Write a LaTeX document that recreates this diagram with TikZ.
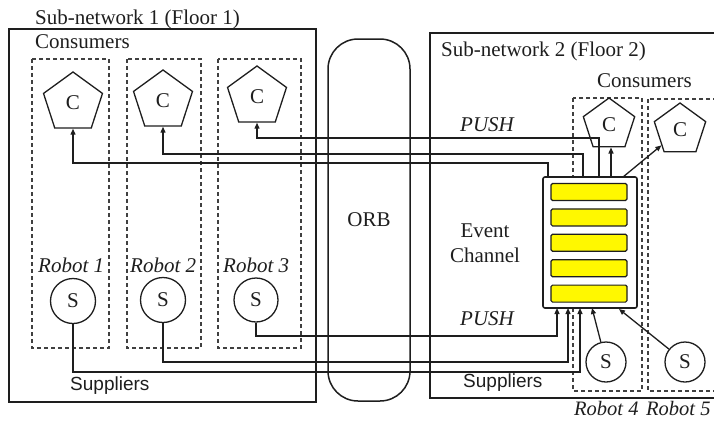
\documentclass[tikz,border=0pt]{standalone}
\usepackage{fontspec}
\setmainfont{Liberation Serif}
\setsansfont{Liberation Sans}
\usetikzlibrary{shapes.geometric,arrows.meta,calc}
\definecolor{evyellow}{RGB}{255,248,0}
\definecolor{ink}{RGB}{30,30,30}
\begin{document}
\begin{tikzpicture}[x=1pt,y=-1pt,
  every node/.style={font=\fontsize{21}{25}\selectfont, inner sep=0pt, text=ink},
  frame/.style={line width=1.6pt, draw=ink},
  robotbox/.style={dash pattern=on 4pt off 3pt, line width=1.6pt, draw=ink!85},
  link/.style={line width=1.3pt, draw=ink},
  arr/.style={link, -{Triangle[length=6pt,width=5pt]}},
  cons/.style={regular polygon, regular polygon sides=5, draw=ink, line width=1.3pt,
    fill=white, inner sep=0pt},
  supp/.style={circle, draw=ink, line width=1.3pt, fill=white, inner sep=0pt},
  bar/.style={draw=ink, line width=1.2pt, fill=evyellow, rounded corners=1.5pt},
  lbl/.style={anchor=base west},
  rob/.style={anchor=base west, font=\fontsize{21}{25}\selectfont\itshape},
  sup/.style={anchor=base west, font=\fontsize{19}{23}\selectfont\sffamily}]
\useasboundingbox (0,0) rectangle (714,421);
\clip (0,0) rectangle (714,421);

% robot groups (dashed)
\draw[robotbox] (32,59) rectangle (109,348);
\draw[robotbox] (127,59) rectangle (201,348);
\draw[robotbox] (218,59) rectangle (301,348);
\draw[robotbox] (573,98) rectangle (642,391);
\draw[robotbox] (648,99) rectangle (730,391);

% sub-network frames
\draw[frame] (9,29) rectangle (316,402);
\draw[frame] (430,33) rectangle (740,398);

% ORB bus
\node[draw=ink, line width=1.5pt, rounded corners=30pt, minimum width=82pt,
  minimum height=362pt] (orb) at (369,220) {ORB};

% titles and labels
\node[lbl] (t1) at (35,24) {Sub-network 1 (Floor 1)};
\node[lbl] (k1) at (35,48) {Consumers};
\node[lbl] (t2) at (441,56) {Sub-network 2 (Floor 2)};
\node[lbl] (k2) at (597,87) {Consumers};
\node[rob] (r1) at (38,272) {Robot 1};
\node[rob] (r2) at (130,272) {Robot 2};
\node[rob] (r3) at (223,272) {Robot 3};
\node[rob, font=\fontsize{20.5}{24}\selectfont\itshape] (r4) at (574,415) {Robot 4};
\node[rob, font=\fontsize{20.5}{24}\selectfont\itshape] (r5) at (646,415) {Robot 5};
\node[rob] (p1) at (460,131) {PUSH};
\node[rob] (p2) at (460,325) {PUSH};
\node[sup] (s1l) at (70,390) {Suppliers};
\node[sup] (s2l) at (463,387) {Suppliers};

% event channel with its queue
\node[draw=ink, line width=1.6pt, fill=white, rounded corners=2pt,
  minimum width=94pt, minimum height=131pt] (ch) at (590,242.5) {};
\foreach \yy in {192,217.4,242.8,268.2,293.6}
  \draw[bar] (551,\yy-8.5) rectangle (627,\yy+8.5);
\node[align=center] (evl) at (485,243) {Event\\Channel};

% consumers
\node[cons, minimum size=62pt] (c1) at (73,103) {C};
\node[cons, minimum size=62pt] (c2) at (163,101) {C};
\node[cons, minimum size=62pt] (c3) at (257,97) {C};
\node[cons, minimum size=54pt] (c4) at (609,125) {C};
\node[cons, minimum size=54pt] (c5) at (680,130) {C};

% suppliers
\node[supp, minimum size=45pt] (s1) at (73,301) {S};
\node[supp, minimum size=45pt] (s2) at (163,300) {S};
\node[supp, minimum size=44pt] (s3) at (256,300) {S};
\node[supp, minimum size=40pt] (s4) at (606,362) {S};
\node[supp, minimum size=40pt] (s5) at (685,362) {S};

% ports on the channel
\coordinate (ct1) at (548,177);
\coordinate (ct2) at (583,177);
\coordinate (ct3) at (599,177);
\coordinate (ct4) at (611,177);
\coordinate (ct5) at (623,177);
\coordinate (cb1) at (557,308);
\coordinate (cb2) at (568,308);
\coordinate (cb3) at (580,308);
\coordinate (cb4) at (592,308);
\coordinate (cb5) at (619,309);

% pushes to consumers
\draw[arr] (ct1) -- ++(0,-14) -| (c1.south);
\draw[arr] (ct2) -- ++(0,-23) -| (c2.south);
\draw[arr] (ct3) -- ++(0,-39) -| (c3.south);
\draw[arr] (ct4) -- (ct4 |- c4.south);
\draw[arr] (ct5) -- (c5);

% pushes from suppliers
\draw[arr] (s3.south) |- ($(cb1)+(0,28)$) -- (cb1);
\draw[arr] (s2.south) |- ($(cb2)+(0,54)$) -- (cb2);
\draw[arr] (s1.south) |- ($(cb3)+(0,64)$) -- (cb3);
\draw[arr] (s4) -- (cb4);
\draw[arr] (s5) -- (cb5);
\end{tikzpicture}
\end{document}
